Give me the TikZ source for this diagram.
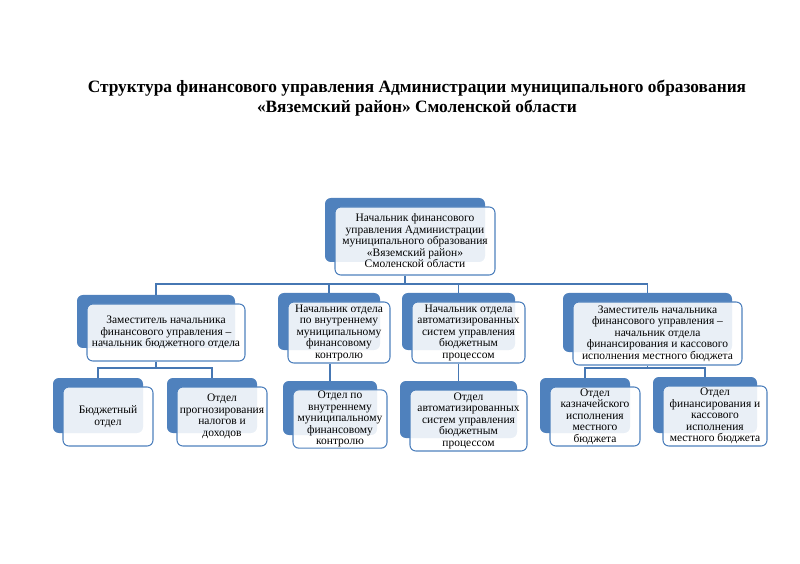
\documentclass[tikz,border=0pt]{standalone}
\usepackage{fontspec}
\setmainfont{Liberation Serif}
\usepackage{tikz}
\usetikzlibrary{calc,positioning}
\definecolor{OrgBlue}{HTML}{4F81BD}
\definecolor{LinkBlue}{HTML}{4677B3}
\newcommand{\boxfont}{\fontsize{9.8}{9.8}\selectfont}
\newcommand{\orgbox}[6]{%
  \node[backbox,minimum width=#4*0.03cm,minimum height=#5*0.03cm] (#1-b) at (#2,#3) {};
  \node[frontbox,minimum width=#4*0.03cm,minimum height=(#5+4)*0.03cm] (#1) at (#2+10,#3+11) {#6};
}

\begin{document}
\begin{tikzpicture}[x=0.03cm,y=-0.03cm,
    backbox/.style={fill=OrgBlue,rounded corners=5pt,inner sep=0pt},
    frontbox/.style={draw=OrgBlue,line width=0.9pt,fill=white,fill opacity=0.88,text opacity=1,
      rounded corners=5pt,align=center,font=\boxfont,inner sep=1pt},
    link/.style={draw=LinkBlue,line width=1.2pt}]
  \useasboundingbox (0,0) rectangle (800,564);
  \node[align=center,font=\fontsize{14.8}{17}\selectfont\bfseries] (title) at (417,98)
    {Структура финансового управления Администрации муниципального образования\\
     «Вяземский район» Смоленской области};

  \orgbox{top}{405}{230}{160}{64}{Начальник финансового\\управления Администрации\\муниципального образования\\«Вяземский район»\\Смоленской области}

  \orgbox{d1}{156}{321.5}{158}{53}{Заместитель начальника\\финансового управления –\\начальник бюджетного отдела}
  \orgbox{d2}{329}{321.5}{102}{57}{Начальник отдела\\по внутреннему\\муниципальному\\финансовому\\контролю}
  \orgbox{d3}{458.5}{321.5}{113}{57}{Начальник отдела\\автоматизированных\\систем управления\\бюджетным\\процессом}
  \orgbox{d4}{647.5}{322.5}{169}{59}{Заместитель начальника\\финансового управления –\\начальник отдела\\финансирования и кассового\\исполнения местного бюджета}

  \orgbox{o1}{98}{405.5}{90}{55}{Бюджетный\\отдел}
  \orgbox{o2}{212}{405.5}{90}{55}{Отдел\\прогнозирования\\налогов и\\доходов}
  \orgbox{o3}{330}{408}{94}{54}{Отдел по\\внутреннему\\муниципальному\\финансовому\\контролю}
  \orgbox{o4}{458.5}{409.5}{117}{57}{Отдел\\автоматизированных\\систем управления\\бюджетным\\процессом}
  \orgbox{o5}{585}{405.5}{90}{55}{Отдел\\казначейского\\исполнения\\местного\\бюджета}
  \orgbox{o6}{705}{405}{104}{56}{Отдел\\финансирования и\\кассового\\исполнения\\местного бюджета}

  \coordinate (bus1) at (0,284);
  \coordinate (bus2) at (0,368);
  \draw[link] (top-b |- top.south) -- (top-b |- bus1);
  \draw[link] (d1-b.north) -- (d1-b |- bus1) -- (d4-b |- bus1) -- (d4-b.north);
  \foreach \n in {d2,d3}
    \draw[link] (\n-b.north) -- (\n-b |- bus1);
  \draw[link] (d1-b |- d1.south) -- (d1-b |- bus2);
  \draw[link] (o1-b.north) -- (o1-b |- bus2) -- (o2-b |- bus2) -- (o2-b.north);
  \draw[link] (o3-b.north |- d2.south) -- (o3-b.north);
  \draw[link] (o4-b.north |- d3.south) -- (o4-b.north);
  \draw[link] (d4-b |- d4.south) -- (d4-b |- bus2);
  \draw[link] (o5-b.north) -- (o5-b |- bus2) -- (o6-b |- bus2) -- (o6-b.north);
\end{tikzpicture}
\end{document}
